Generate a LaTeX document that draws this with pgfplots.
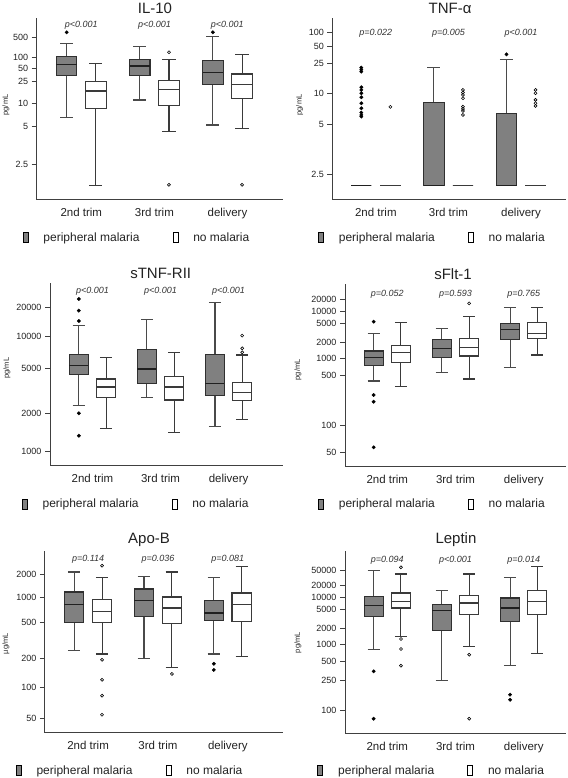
\documentclass[border=0pt]{standalone}
\usepackage{pgfplots}
\pgfplotsset{compat=1.18}
\usepackage{fontspec}
\setmainfont{Liberation Sans}
\definecolor{pmfill}{HTML}{808080}
\definecolor{bpm}{HTML}{303030}
\definecolor{wpm}{HTML}{4A4A4A}
\definecolor{bnm}{HTML}{3A3A3A}
\definecolor{medc}{HTML}{202020}
\definecolor{axc}{HTML}{404040}
\definecolor{txc}{HTML}{222222}
\definecolor{pvc}{HTML}{333333}

\tikzset{pv/.style={font=\itshape\fontsize{9}{9}\selectfont, text=pvc, inner sep=0pt, anchor=center}}
\pgfplotsset{
  lnln/.style={
    y coord trafo/.code={%
      \begingroup
      \pgfkeys{/pgf/fpu=true,/pgf/fpu/output format=fixed}%
      \pgfmathparse{ln(ln(##1)+#1)}%
      \global\let\lnlnres\pgfmathresult
      \endgroup
      \let\pgfmathresult\lnlnres
    },
  },
  pmwhisk/.style={forget plot, draw=wpm, line width=1.1pt},
  nmwhisk/.style={forget plot, draw=bnm, line width=1.1pt},
  pmbox/.style={forget plot, draw=bpm, fill=pmfill, line width=1.1pt},
  nmbox/.style={forget plot, draw=bnm, fill=white, line width=1.1pt},
  pmmed/.style={forget plot, draw=medc, line width=1.3pt},
  nmmed/.style={forget plot, draw=bnm, line width=1.1pt},
  pmout/.style={forget plot, only marks, mark=*, mark size=1.7pt, color=black},
  nmout/.style={forget plot, only marks, mark=o, mark size=1.5pt, mark options={line width=0.6pt}, color=black},
  panel/.style={
    scale only axis, anchor=south west, clip=false,
    axis x line*=bottom, axis y line*=left,
    axis line style={draw=axc, line width=1pt},
    xtick={1,2,3}, xticklabels={2nd trim,3rd trim,delivery},
    x tick style={draw=none},
    y tick style={draw=axc, line width=0.8pt},
    tick align=outside, major tick length=5pt,
    minor tick num=0,
    xticklabel style={font=\fontsize{11.5}{12}\selectfont, text=txc},
    yticklabel style={font=\fontsize{9}{9}\selectfont, text=txc},
    title style={font=\fontsize{15}{15}\selectfont, text=txc, anchor=south, inner sep=0pt, yshift=-1.5pt},
    ylabel style={font=\fontsize{7.5}{8}\selectfont, text=txc, anchor=center},
    legend columns=2,
    legend image code/.code={\draw[##1] (0pt,-5pt) rectangle (5pt,5pt);},
    legend style={anchor=west, draw=none, fill=none, inner sep=0pt, outer sep=0pt,
      nodes={inner sep=0pt, font=\fontsize{12}{12}\selectfont, text=txc},
      /tikz/every odd column/.append style={column sep=15pt},
      /tikz/every even column/.append style={column sep=33pt}},
  },
}

\newcommand\bhw{0.14}
\newcommand\chw{0.09}
% #1 pm/nm, #2 x, #3 lower whisker, #4 Q1, #5 median, #6 Q3, #7 upper whisker
\newcommand\BX[7]{%
  \pgfmathsetmacro\bxL{#2-\bhw}\pgfmathsetmacro\bxR{#2+\bhw}%
  \pgfmathsetmacro\cpL{#2-\chw}\pgfmathsetmacro\cpR{#2+\chw}%
  \addplot[#1whisk] coordinates {(#2,#3) (#2,#4)};
  \addplot[#1whisk] coordinates {(#2,#6) (#2,#7)};
  \addplot[#1whisk] coordinates {(\cpL,#3) (\cpR,#3)};
  \addplot[#1whisk] coordinates {(\cpL,#7) (\cpR,#7)};
  \addplot[#1box] coordinates {(\bxL,#4) (\bxR,#4) (\bxR,#6) (\bxL,#6)} -- cycle;
  \addplot[#1med] coordinates {(\bxL,#5) (\bxR,#5)};
}
\newcommand\LEG{%
  \addlegendimage{fill=pmfill, draw=black, line width=0.8pt}\addlegendentry{peripheral malaria}
  \addlegendimage{fill=white, draw=black, line width=0.8pt}\addlegendentry{no malaria}
}

\begin{document}
\begin{tikzpicture}
\useasboundingbox (0,0) rectangle (567pt,778pt);

% ---------------- IL-10
\begin{axis}[panel, lnln=0,
  at={(36.7pt,578pt)}, width=246.3pt, height=181.7pt,
  xmin=0.39, xmax=3.76, ymin=1.70, ymax=4160,
  ytick={2.5,5,10,25,50,100,500}, yticklabels={2.5,5,10,25,50,100,500},
  title={IL-10}, title style={at={(axis description cs:0.48,1)}},
  ylabel={pg/mL}, ylabel style={at={(axis description cs:-0.125,0.523)}},
  legend style={at={(axis description cs:-0.057,-0.207)}},
]
\LEG
\BX{pm}{0.8}{6.36}{32.4}{63.4}{105.6}{300}
\BX{nm}{1.2}{1.935}{8.24}{15.96}{24.3}{67.5}
\BX{pm}{1.8}{11.2}{32.4}{57.2}{87.8}{226}
\BX{nm}{2.2}{4.46}{9.29}{17.1}{25.5}{87.8}
\BX{pm}{2.8}{5.23}{20.8}{38.7}{80.3}{550}
\BX{nm}{3.2}{4.82}{11.8}{20.8}{36.0}{125}
\addplot[pmout] coordinates {(0.8,843) (2.8,843)};
\addplot[nmout] coordinates {(2.2,145) (2.2,1.95) (3.2,1.95)};
\node[pv] at (axis description cs:0.181,0.963) {p<0.001};
\node[pv] at (axis description cs:0.478,0.963) {p<0.001};
\node[pv] at (axis description cs:0.774,0.963) {p<0.001};
\end{axis}

% ---------------- TNF-alpha
\begin{axis}[panel, lnln=0,
  at={(332.3pt,578pt)}, width=233.7pt, height=181.7pt,
  xmin=0.40, xmax=3.62, ymin=1.983, ymax=221,
  ytick={2.5,5,10,25,50,100}, yticklabels={2.5,5,10,25,50,100},
  title={TNF-α}, title style={at={(axis description cs:0.504,1)}},
  ylabel={pg/mL}, ylabel style={at={(axis description cs:-0.14,0.523)}},
  legend style={at={(axis description cs:-0.061,-0.207)}},
]
\LEG
\BX{pm}{0.8}{2.24}{2.24}{2.24}{2.24}{2.24}
\BX{nm}{1.2}{2.24}{2.24}{2.24}{2.24}{2.24}
\BX{pm}{1.8}{2.24}{2.24}{2.24}{7.93}{22.1}
\BX{nm}{2.2}{2.24}{2.24}{2.24}{2.24}{2.24}
\BX{pm}{2.8}{2.24}{2.24}{2.24}{6.26}{29.6}
\BX{nm}{3.2}{2.24}{2.24}{2.24}{2.24}{2.24}
\addplot[pmout] coordinates {(0.8,21.8) (0.8,20.3) (0.8,19.0) (0.8,11.76) (0.8,10.93) (0.8,10.0) (0.8,9.03) (0.8,7.81) (0.8,6.97) (0.8,6.35) (0.8,6.05) (0.8,5.85) (2.8,36.1)};
\addplot[nmout] coordinates {(1.2,7.18) (2.2,10.93) (2.2,10.18) (2.2,9.58) (2.2,8.81) (2.2,7.23) (2.2,6.87) (2.2,6.58) (2.2,6.05) (3.2,10.93) (3.2,10.0) (3.2,8.46) (3.2,7.81) (3.2,7.35)};
\node[pv] at (axis description cs:0.186,0.919) {p=0.022};
\node[pv] at (axis description cs:0.497,0.919) {p=0.005};
\node[pv] at (axis description cs:0.807,0.919) {p<0.001};
\end{axis}

% ---------------- sTNF-RII
\begin{axis}[panel, lnln=0,
  at={(50pt,312pt)}, width=233pt, height=182.7pt,
  xmin=0.376, xmax=3.80, ymin=784, ymax=37300,
  ytick={1000,2000,5000,10000,20000}, yticklabels={1000,2000,5000,10000,20000},
  title={sTNF-RII}, title style={at={(axis description cs:0.475,1)}},
  ylabel={pg/mL}, ylabel style={at={(axis description cs:-0.185,0.536)}},
  legend style={at={(axis description cs:-0.121,-0.21)}},
]
\LEG
\BX{pm}{0.8}{2325}{4370}{5260}{6720}{12930}
\BX{nm}{1.2}{1515}{2715}{3360}{3960}{6250}
\BX{pm}{1.8}{2715}{3625}{4890}{7500}{15040}
\BX{nm}{2.2}{1408}{2595}{3360}{4210}{6975}
\BX{pm}{2.8}{1560}{2825}{3625}{6720}{22650}
\BX{nm}{3.2}{1788}{2560}{3000}{3700}{6620}
\addplot[pmout] coordinates {(0.8,24900) (0.8,18600) (0.8,14440) (0.8,2005) (0.8,1325)};
\addplot[nmout] coordinates {(3.2,10240) (3.2,7680) (3.2,7030)};
\node[pv] at (axis description cs:0.182,0.954) {p<0.001};
\node[pv] at (axis description cs:0.474,0.954) {p<0.001};
\node[pv] at (axis description cs:0.766,0.954) {p<0.001};
\end{axis}

% ---------------- sFlt-1
\begin{axis}[panel, lnln=0,
  at={(345pt,311.3pt)}, width=221pt, height=182.7pt,
  xmin=0.38, xmax=3.62, ymin=35.8, ymax=51400,
  ytick={50,100,500,1000,2000,5000,10000,20000}, yticklabels={50,100,500,1000,2000,5000,10000,20000},
  title={sFlt-1}, title style={at={(axis description cs:0.489,1)}},
  ylabel={pg/mL}, ylabel style={at={(axis description cs:-0.213,0.53)}},
  legend style={at={(axis description cs:-0.122,-0.206)}},
]
\LEG
\BX{pm}{0.8}{411}{740}{1028}{1372}{3100}
\BX{nm}{1.2}{336}{836}{1275}{1763}{5420}
\BX{pm}{1.8}{569}{1028}{1517}{2330}{3975}
\BX{nm}{2.2}{443}{1103}{1610}{2435}{7300}
\BX{pm}{2.8}{693}{2330}{3785}{5130}{12040}
\BX{nm}{3.2}{1152}{2435}{3100}{5420}{12040}
\addplot[pmout] coordinates {(0.8,5600) (0.8,252) (0.8,202) (0.8,55.9)};
\addplot[nmout] coordinates {(2.2,15450)};
\node[pv] at (axis description cs:0.191,0.944) {p=0.052};
\node[pv] at (axis description cs:0.500,0.944) {p=0.593};
\node[pv] at (axis description cs:0.809,0.944) {p=0.765};
\end{axis}

% ---------------- Apo-B
\begin{axis}[panel, lnln=5,
  at={(45pt,45pt)}, width=238pt, height=182pt,
  xmin=0.383, xmax=3.79, ymin=37.1, ymax=4088,
  ytick={50,100,200,500,1000,2000}, yticklabels={50,100,200,500,1000,2000},
  title={Apo-B}, title style={at={(axis description cs:0.437,1)}},
  ylabel={µg/mL}, ylabel style={at={(axis description cs:-0.164,0.49)}},
  legend style={at={(axis description cs:-0.123,-0.207)}},
]
\LEG
\BX{pm}{0.8}{244}{505}{820}{1176}{2126}
\BX{nm}{1.2}{223}{505}{681}{945}{1810}
\BX{pm}{1.8}{201}{593}{927}{1283}{1866}
\BX{nm}{2.2}{161}{491}{748}{1019}{2126}
\BX{pm}{2.8}{223}{534}{651}{917}{1810}
\BX{nm}{3.2}{210}{519}{820}{1143}{2530}
\addplot[pmout] coordinates {(2.8,175) (2.8,151)};
\addplot[nmout] coordinates {(1.2,2580) (1.2,193) (1.2,119.5) (1.2,83.0) (1.2,54.5) (2.2,137)};
\node[pv] at (axis description cs:0.181,0.952) {p=0.114};
\node[pv] at (axis description cs:0.475,0.952) {p=0.036};
\node[pv] at (axis description cs:0.768,0.952) {p=0.081};
\end{axis}

% ---------------- Leptin
\begin{axis}[panel, lnln=0,
  at={(345pt,44pt)}, width=221pt, height=182.7pt,
  xmin=0.38, xmax=3.62, ymin=53.8, ymax=195000,
  ytick={100,250,500,1000,2000,5000,10000,20000,50000}, yticklabels={100,250,500,1000,2000,5000,10000,20000,50000},
  title={Leptin}, title style={at={(axis description cs:0.502,1)}},
  ylabel={pg/mL}, ylabel style={at={(axis description cs:-0.213,0.5)}},
  legend style={at={(axis description cs:-0.125,-0.201)}},
]
\LEG
\BX{pm}{0.8}{792}{3580}{6330}{10390}{50000}
\BX{nm}{1.2}{1398}{5500}{7870}{12580}{40200}
\BX{pm}{1.8}{250}{1800}{4865}{6560}{14400}
\BX{nm}{2.2}{909}{3890}{7180}{10790}{40200}
\BX{pm}{2.8}{423}{2800}{5500}{9470}{32470}
\BX{nm}{3.2}{674}{3890}{7870}{14400}{66900}
\addplot[pmout] coordinates {(0.8,346) (0.8,79.5) (2.8,159) (2.8,136)};
\addplot[nmout] coordinates {(1.2,62500) (1.2,1242) (1.2,814) (1.2,425) (2.2,647) (2.2,79.5)};
\node[pv] at (axis description cs:0.191,0.949) {p=0.094};
\node[pv] at (axis description cs:0.500,0.949) {p<0.001};
\node[pv] at (axis description cs:0.809,0.949) {p=0.014};
\end{axis}
\end{tikzpicture}
\end{document}
